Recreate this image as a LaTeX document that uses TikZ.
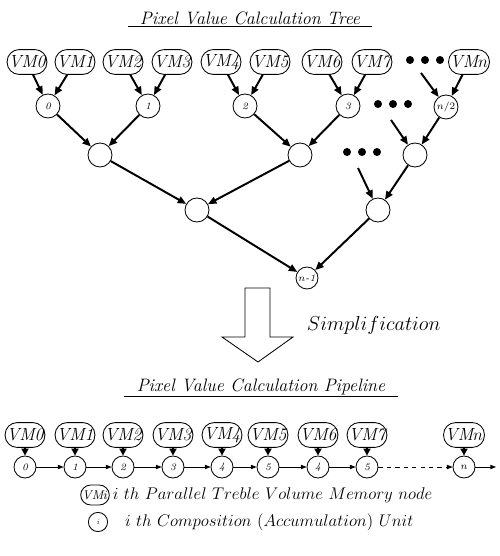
\documentclass[tikz,border=0pt]{standalone}
\usepackage{tikz}
\usetikzlibrary{arrows.meta,positioning,shapes.misc,calc}
\begin{document}
\begin{tikzpicture}[
  x=0.025cm, y=-0.025cm,
  font=\large\itshape,
  vm/.style={rectangle, rounded corners=0.3cm, draw, line width=0.6pt,
    minimum height=0.62cm, minimum width=0.92cm, inner xsep=1pt, inner ysep=1pt,
    font=\fontsize{12.5}{15}\selectfont\itshape},
  unit/.style={circle, draw, line width=0.6pt, minimum size=0.6cm, inner sep=0pt,
    font=\scriptsize\itshape},
  punit/.style={unit, minimum size=0.55cm},
  title/.style={inner xsep=0.3cm, inner ysep=1pt,
    font=\fontsize{12.8}{15}\selectfont\itshape},
  tarr/.style={-{Triangle[length=6pt,width=5pt]}, line width=1.4pt},
  varr/.style={-{Triangle[length=5pt,width=5pt]}, line width=1.4pt},
  parr/.style={-{Triangle[length=4pt,width=3pt]}, line width=0.6pt},
  dot/.style={circle, fill, inner sep=0pt, minimum size=0.2cm},
]
\useasboundingbox (0,0) rectangle (499,556);
% tree
\node[title] (ttree) at (250,18) {Pixel Value Calculation Tree};
\draw[line width=0.8pt] (ttree.south west) -- (ttree.south east);
\node[vm] (tv0) at (27,62) {VM0};
\node[vm] (tv1) at (75,62) {VM1};
\node[vm] (tv2) at (123,62) {VM2};
\node[vm] (tv3) at (172,62) {VM3};
\node[vm] (tv4) at (221,62) {VM4};
\node[vm] (tv5) at (270,62) {VM5};
\node[vm] (tv6) at (322,62) {VM6};
\node[vm] (tv7) at (372,62) {VM7};
\node[vm] (tvn) at (469,62) {VM$n$};
\node[unit] (c0) at (48,106) {0};
\node[unit] (c1) at (148,106) {1};
\node[unit] (c2) at (245,106) {2};
\node[unit] (c3) at (348,106) {3};
\node[unit] (c4) at (446,107) {$n/2$};
\node[unit] (d0) at (100,155) {};
\node[unit] (d1) at (300,155) {};
\node[unit] (d2) at (415,155) {};
\node[unit] (e0) at (197,210) {};
\node[unit] (e1) at (378,210) {};
\node[unit, minimum size=0.55cm] (root) at (307,278) {$n$-1};
% dots
\foreach \dx in {-15,0,15} {
  \node[dot] at ($(425,60)+(\dx,0)$) {};
  \node[dot] at ($(393,104)+(\dx,0)$) {};
  \node[dot] at ($(362,152)+(\dx,0)$) {};
}
\coordinate (dtop) at (421,73);
\coordinate (dmid) at (391,120);
\coordinate (dlow) at (358,168);
% arrows
\draw[tarr] (tv0) -- (c0);
\draw[tarr] (tv1) -- (c0);
\draw[tarr] (tv2) -- (c1);
\draw[tarr] (tv3) -- (c1);
\draw[tarr] (tv4) -- (c2);
\draw[tarr] (tv5) -- (c2);
\draw[tarr] (tv6) -- (c3);
\draw[tarr] (tv7) -- (c3);
\draw[tarr] (dtop) -- (c4);
\draw[tarr] (tvn) -- (c4);
\draw[tarr] (c0) -- (d0);
\draw[tarr] (c1) -- (d0);
\draw[tarr] (c2) -- (d1);
\draw[tarr] (c3) -- (d1);
\draw[tarr] (dmid) -- (d2);
\draw[tarr] (c4) -- (d2);
\draw[tarr] (d0) -- (e0);
\draw[tarr] (d1) -- (e0);
\draw[tarr] (dlow) -- (e1);
\draw[tarr] (d2) -- (e1);
\draw[tarr] (e0) -- (root);
\draw[tarr] (e1) -- (root);
% simplification
\draw[line width=0.6pt] (245,288) -- (270,288) -- (270,337) -- (293,337)
  -- (258,362) -- (222,337) -- (245,337) -- cycle;
\node[anchor=west, font=\fontsize{13.5}{16}\selectfont] (simp) at (302,325) {$Simplification$};
% pipeline
\node[title] (tpipe) at (261,387) {Pixel Value Calculation Pipeline};
\draw[line width=0.8pt] (tpipe.south west) -- (tpipe.south east);
\node[vm] (pv0) at (25,435) {VM0};
\node[vm] (pv1) at (75,435) {VM1};
\node[vm] (pv2) at (123,435) {VM2};
\node[vm] (pv3) at (173,435) {VM3};
\node[vm] (pv4) at (222,435) {VM4};
\node[vm] (pv5) at (268,435) {VM5};
\node[vm] (pv6) at (318,435) {VM6};
\node[vm] (pv7) at (367,435) {VM7};
\node[vm] (pvn) at (464,435) {VM$n$};
\node[punit] (p0) at (25,467) {0};
\node[punit] (p1) at (75,467) {1};
\node[punit] (p2) at (123,467) {2};
\node[punit] (p3) at (173,467) {3};
\node[punit] (p4) at (222,467) {4};
\node[punit] (p5) at (268,467) {5};
\node[punit] (p6) at (318,467) {4};
\node[punit] (p7) at (367,467) {5};
\node[punit] (pn) at (464,467) {$n$};
\coordinate (pend) at (496,467);
\draw[varr] (pv0) -- (p0);
\draw[varr] (pv1) -- (p1);
\draw[varr] (pv2) -- (p2);
\draw[varr] (pv3) -- (p3);
\draw[varr] (pv4) -- (p4);
\draw[varr] (pv5) -- (p5);
\draw[varr] (pv6) -- (p6);
\draw[varr] (pv7) -- (p7);
\draw[varr] (pvn) -- (pn);
\draw[parr] (p0) -- (p1);
\draw[parr] (p1) -- (p2);
\draw[parr] (p2) -- (p3);
\draw[parr] (p3) -- (p4);
\draw[parr] (p4) -- (p5);
\draw[parr] (p5) -- (p6);
\draw[parr] (p6) -- (p7);
\draw[parr, dashed] (p7) -- (pn);
\draw[parr] (pn) -- (pend);
% legend
\node[vm, minimum width=0.66cm, minimum height=0.5cm, rounded corners=0.25cm,
  font=\small\itshape] (lvm) at (95,495) {VM$i$};
\node[anchor=west, inner sep=2pt, font=\large] (lvmtext) at (lvm.east)
  {$i\ th\ Parallel\ Treble\ Volume\ Memory\ node$};
\node[unit, minimum size=0.48cm, font=\tiny\itshape] (lunit) at (98,522) {i};
\node[anchor=west, inner sep=2pt, font=\large] (lunittext) at (122,522)
  {$i\ th\ Composition\ (Accumulation)\ Unit$};
\end{tikzpicture}
\end{document}
